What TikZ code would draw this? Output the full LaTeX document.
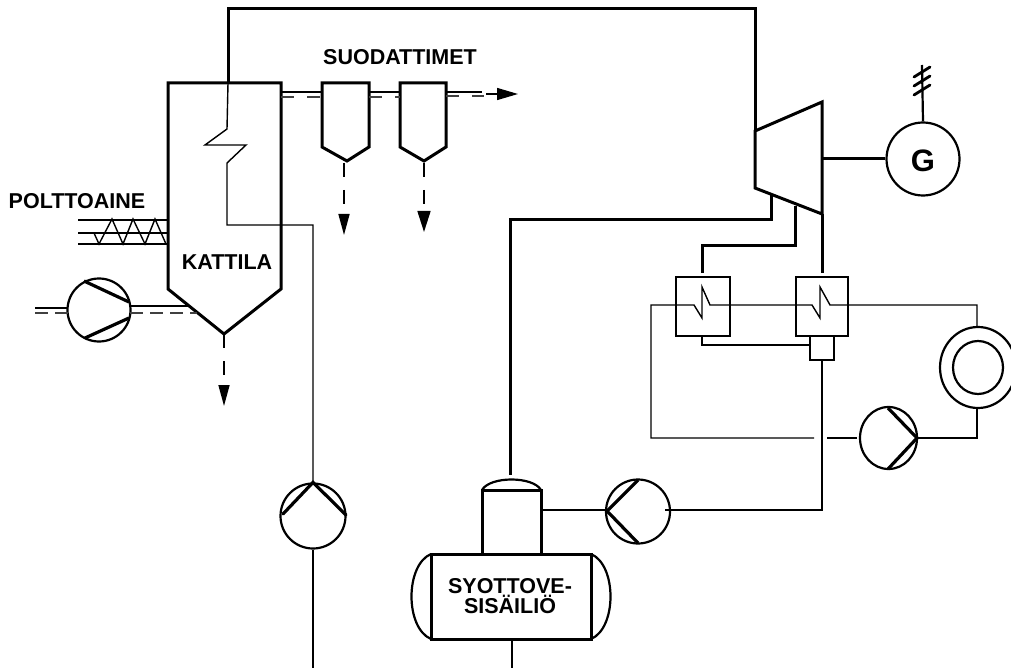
\documentclass[tikz,border=0pt]{standalone}
\usepackage{fontspec}
\setmainfont{Liberation Sans}
\usetikzlibrary{arrows.meta,shapes.geometric}
\tikzset{
  thick line/.style={line width=3pt,line join=miter},
  thin line/.style={line width=1.4pt},
  flue/.style={line width=1.6pt,dash pattern=on 13pt off 13pt,draw=black!75},
  flueshort/.style={line width=1.6pt,dash pattern=on 13pt off 7pt,draw=black!75},
  pumpbody/.style={circle,draw,line width=2.2pt,minimum size=#1,inner sep=0pt,fill=white},
  blade/.style={line width=3.2pt},
  drop/.style={line width=1.6pt,dash pattern=on 14pt off 13pt},
  head/.style={-{Triangle[length=21pt,width=#1]}},
  lbl/.style={font=\bfseries\fontsize{21.5}{20}\selectfont,inner sep=0pt,align=center}
}
\begin{document}
\begin{tikzpicture}[x=1pt,y=-1pt]
\useasboundingbox[fill=white] (0,0) rectangle (1011,668);
% --- coordinates
\coordinate (bTL) at (168,83);
\coordinate (bTR) at (281,83);
\coordinate (bSR) at (281,289);
\coordinate (bTip) at (224,334);
\coordinate (bSL) at (168,289);
\coordinate (tA) at (755,131);
\coordinate (tB) at (822,102);
\coordinate (tC) at (822,214);
\coordinate (tD) at (755,188);
\coordinate (sIn) at (228,83);
% --- pumps / circles
\node[pumpbody=63pt] (airpump) at (99,310) {};
\node[pumpbody=65pt] (fwpump) at (313,516) {};
\node[pumpbody=64pt] (boost) at (638,511.5) {};
\node[ellipse,draw,line width=2.2pt,minimum width=57pt,minimum height=62pt,inner sep=0pt,fill=white] (cpump) at (888.5,438) {};
\node[circle,draw,line width=2.2pt,minimum size=73pt,inner sep=0pt] (gen) at (923,159) {};
\node[font=\bfseries\fontsize{31}{31}\selectfont,inner sep=0pt] (G) at (923,161) {G};
% --- filter boxes
\draw[thick line] (322,83) coordinate (f1TL) -- (369,83) coordinate (f1TR) -- (369,147) -- (347,161) coordinate (f1Tip) -- (322,147) -- cycle;
\draw[thick line] (400,83) coordinate (f2TL) -- (446,83) coordinate (f2TR) -- (446,147) -- (424,161) coordinate (f2Tip) -- (400,147) -- cycle;
% --- boiler
\draw[thick line] (bTL) -- (bTR) -- (bSR) -- (bTip) -- (bSL) -- cycle;
% --- steam to turbine
\draw[thick line] (sIn) -- (228,9) -- (755,9) -- (tA);
\draw[thick line] (tA) -- (tB) -- (tC) -- (tD) -- cycle;
\draw[thick line] (tC |- 159,159) -- (gen.west);
% --- superheater coil and feed line
\draw[thin line] (sIn) -- (227,129) -- (205,145) -- (246,145) -- (227,163) -- (227,225) -- (313,225) -- (fwpump.north);
\draw[thin line] (fwpump.south) -- (313,668);
\draw[blade,line cap=round] (283,514) -- (fwpump.north) -- (346,515);
% --- generator wire
\draw[line width=2.2pt] (gen.north) -- (922,65);
\foreach \yy in {72,81,90}
  \draw[line width=2.8pt,line cap=round] (914,\yy+5) -- (930,\yy-5);
% --- extraction lines
\draw[thick line] (771,195) -- (771,220) -- (510,220) -- (510,475);
\draw[thick line] (795,206) -- (795,246) -- (702,246) -- (702,273);
\draw[thick line] (tC) -- (822,273);
% --- heaters
\draw[line width=2.2pt] (676,277) rectangle (730,336);
\draw[line width=2.2pt] (796,277) rectangle (848,336);
\draw[line width=2.2pt] (810,336) rectangle (834,360);
% --- ring condenser
\draw[line width=2.2pt] (978,367.5) ellipse [x radius=38pt,y radius=40.5pt];
\draw[line width=2.2pt] (978,367.5) ellipse [x radius=25pt,y radius=26.5pt];
% --- thin condensate circuit
\draw[thin line] (977,327) -- (977,305) -- (830,305) -- (820,287) -- (820,318) -- (812,305) -- (710,305) -- (702,287) -- (702,318) -- (694,305) -- (651,305) -- (651,438) -- (814,438);
\draw[thin line] (827,438) -- (857,438);
\draw[thin line] (cpump.east) -- (977,438) -- (977,408);
\draw[thin line] (702,336) -- (702,345) -- (810,345);
\draw[thin line] (822,360) -- (822,510) -- (665,510);
\draw[blade] (888,408) -- (917,438) -- (888,469);
% --- boost pump
\draw[blade] (638,480) -- (607,511) -- (638,543);
% --- tank
\draw[thick line] (482,554) -- (482,490) -- (541,490) -- (541,554);
\draw[line width=2.2pt] (482,490) .. controls (490,476) and (533,476) .. (541,490);
\draw[thick line] (431,554) rectangle (591,639);
\draw[line width=2.2pt] (431,554) .. controls (405,565) and (405,628) .. (431,639);
\draw[line width=2.2pt] (591,554) .. controls (617,565) and (617,628) .. (591,639);
\draw[thin line] (541,510) -- (606,510);
\draw[thin line] (512,639) -- (512,668);
% --- air pump
\draw[blade] (84,281) -- (129,302);
\draw[blade] (85,338) -- (129,318);
\draw[thin line] (35,308) -- (68,308);
\draw[flueshort] (35,313) -- (68,313);
\draw[thin line] (130,306) -- (190,306);
\draw[flueshort] (130,313) -- (197,313);
% --- fuel feed
\draw[thin line] (78,220) -- (168,220) (78,233) -- (168,233) (78,244) -- (168,244);
\draw[thin line] (94,233) -- (99,244) -- (112,219) -- (123,244) -- (133,219) -- (145,244) -- (155,219) -- (166,244);
% --- flue gas
\draw[thin line] (281,92) -- (322,92) (369,92) -- (400,92) (446,92) -- (482,92);
\draw[flue] (281,97) -- (322,97);
\draw[flue] (369,97) -- (400,97);
\draw[flue] (446,96) -- (484,96);
\draw[line width=1.4pt,head=12pt] (486,94) -- (518,94);
\draw[drop,head=11pt] (bTip) -- (224,406);
\draw[drop,head=11pt] (344,163) -- (344,235);
\draw[drop,head=13pt] (424,163) -- (424,232);
% --- labels
\node[lbl] (polt) at (77,201) {POLTTOAINE};
\node[lbl] (katt) at (227,262) {KATTILA};
\node[lbl] (suod) at (400,57) {SUODATTIMET};
\node[lbl,font=\bfseries\fontsize{21.5}{19.5}\selectfont] (syot) at (510,596) {SYOTTOVE-\\SISÄILIÖ};
\end{tikzpicture}
\end{document}
